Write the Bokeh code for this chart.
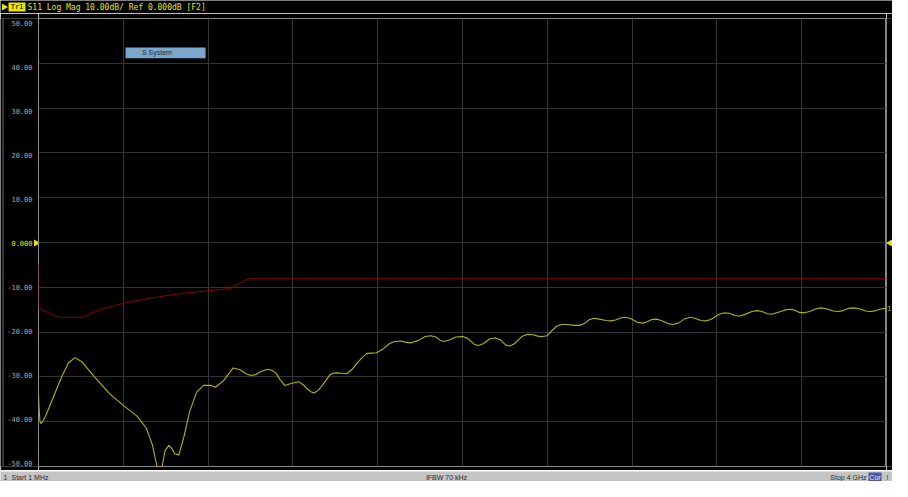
from bokeh.plotting import figure
from bokeh.models import Range1d, FixedTicker, Label, Grid, BoxAnnotation, Span
from bokeh.layouts import column, row
from bokeh.embed import file_html
from bokeh.resources import INLINE
from bokeh.core.properties import value

# ---- data ----
start_mhz = 1
stop_mhz = 4000
n_xdiv = 10
y_ticks = [50, 40, 30, 20, 10, 0, -10, -20, -30, -40, -50]
y_tick_labels = ["50.00", "40.00", "30.00", "20.00", "10.00", "0.000",
                 "-10.00", "-20.00", "-30.00", "-40.00", "-50.00"]

s11_freq = [1, 3, 8, 13, 20, 34, 65, 111, 142, 173, 205, 267, 337, 402, 467, 509,
            537, 560, 584, 598, 616, 630, 644, 663, 686, 714, 747, 779, 817, 835,
            873, 919, 952, 980, 1003, 1025, 1050, 1082, 1100, 1120, 1140, 1162, 1196,
            1231, 1250, 1269, 1285, 1301, 1320, 1339, 1376, 1390, 1409, 1430, 1455,
            1480, 1502, 1525, 1548, 1570, 1595, 1628, 1655, 1679, 1710, 1735, 1758,
            1790, 1825, 1851, 1875, 1895, 1912, 1935, 1970, 2001, 2025, 2055, 2075,
            2098, 2130, 2154, 2178, 2205, 2224, 2245, 2280, 2308, 2333, 2355, 2378,
            2400, 2430, 2445, 2467, 2490, 2530, 2551, 2575, 2600, 2621, 2645, 2678,
            2700, 2722, 2750, 2770, 2795, 2825, 2849, 2872, 2893, 2914, 2938, 2970,
            2993, 3018, 3050, 3073, 3097, 3125, 3147, 3172, 3210, 3236, 3260, 3285,
            3306, 3330, 3365, 3390, 3413, 3438, 3459, 3483, 3518, 3543, 3567, 3590,
            3613, 3637, 3668, 3692, 3716, 3748, 3772, 3795, 3822, 3846, 3870, 3902,
            3925, 3950, 3978, 4000]
s11_db = [-33.8, -36.5, -40.0, -40.4, -40.0, -38.8, -35.2, -29.9, -26.9, -25.7, -26.6,
          -30.1, -33.8, -36.4, -38.8, -41.4, -45.0, -50.0, -50.0, -46.4, -45.3, -46.0,
          -47.2, -47.4, -43.5, -37.7, -33.4, -31.9, -31.9, -32.3, -30.9, -28.0, -28.4,
          -29.3, -29.7, -29.5, -28.8, -28.3, -28.5, -29.1, -30.6, -31.9, -31.4, -31.1,
          -31.8, -32.7, -33.3, -33.6, -33.0, -31.9, -29.5, -29.2, -29.1, -29.2, -29.3,
          -28.3, -27.0, -25.8, -24.8, -24.7, -24.6, -23.7, -22.6, -22.1, -22.0, -22.3,
          -22.4, -21.9, -21.0, -20.8, -21.1, -21.8, -22.1, -21.8, -21.1, -21.0, -21.4,
          -22.7, -23.0, -22.6, -21.5, -21.3, -21.7, -22.9, -23.1, -22.6, -21.0, -20.5,
          -20.6, -20.9, -21.0, -20.8, -19.3, -18.7, -18.3, -18.3, -18.5, -18.5, -18.1,
          -17.2, -16.9, -17.1, -17.4, -17.5, -17.3, -16.8, -16.7, -17.0, -17.8, -18.0,
          -17.7, -17.2, -17.1, -17.4, -18.1, -18.3, -18.0, -17.0, -16.7, -16.9, -17.4,
          -17.5, -17.2, -16.0, -15.7, -15.8, -16.3, -16.4, -16.1, -15.4, -15.2, -15.4,
          -15.9, -16.0, -15.7, -15.1, -14.9, -15.1, -15.6, -15.7, -15.4, -14.8, -14.6,
          -14.8, -15.3, -15.4, -15.2, -14.7, -14.6, -14.8, -15.3, -15.4, -15.2, -14.8,
          -14.7]

mem_freq = [1, 2, 96, 205, 298, 399, 531, 686, 795, 904, 989, 4000]
mem_db = [-5.0, -14.7, -16.7, -16.7, -14.9, -13.6, -12.4, -11.3, -10.8, -10.3, -8.1, -8.1]

header_text = "S11 Log Mag 10.00dB/ Ref 0.000dB [F2]"

# ---- styling ----
MONO = "DejaVu Sans Mono"
SANS = "Liberation Sans"
YEL = "#e6e600"
TRACE_YEL = "#b4b400"
LBL_GREY = "#a8a8a8"
GRID = "#333333"

W = 892
HDR_H = 13
SB_H = 11
ROW_H = 481 - HDR_H - SB_H
LEFT_W = 38
RIGHT_W = 6
MAIN_W = W - LEFT_W - RIGHT_W
B_TOP = 5
B_BOT = 4
FRAME_H = ROW_H - B_TOP - B_BOT

y_lo, y_hi = y_ticks[-1], y_ticks[0]
y_span = y_hi - y_lo
px = y_span / FRAME_H  # dB per pixel


def blank(width, height, xr, yr, bg="black"):
    f = figure(width=width, height=height, x_range=xr, y_range=yr,
               output_backend="svg", toolbar_location=None,
               background_fill_color=bg, border_fill_color=bg, min_border=0,
               x_axis_location=None, y_axis_location=None)
    f.outline_line_color = None
    for g in f.grid:
        g.visible = False
    return f


# ---- header ----
hdr = blank(W, HDR_H, Range1d(0, W), Range1d(0, HDR_H))
hdr.scatter(x=[3.5], y=[6.5], marker="triangle", angle=-1.5708, size=7,
            fill_color=YEL, line_color=None)
hdr.quad(left=[8], right=[25], bottom=[2], top=[11], fill_color=YEL, line_color=None)
hdr.text(x=[16.5], y=[6.5], text=["Tr1"], text_align="center", text_baseline="middle",
         text_color="black", text_font=value(MONO), text_font_size=value("7px"))
hdr.text(x=[27], y=[6.5], text=[header_text], text_align="left", text_baseline="middle",
         text_color=YEL, text_font=value(MONO), text_font_size=value("8px"))

# ---- main plot ----
p = figure(width=MAIN_W, height=ROW_H, x_range=Range1d(start_mhz, stop_mhz),
           y_range=Range1d(y_lo, y_hi),
           output_backend="svg", toolbar_location=None,
           background_fill_color="black", border_fill_color="black",
           min_border_left=0, min_border_right=0, min_border_top=B_TOP,
           min_border_bottom=B_BOT, x_axis_location=None, y_axis_location=None)
p.outline_line_color = "#8a8a8a"
for g in p.grid:
    g.visible = False

x_grid = [start_mhz + i * (stop_mhz - start_mhz) / n_xdiv for i in range(n_xdiv + 1)]
p.add_layout(Grid(dimension=0, ticker=FixedTicker(ticks=x_grid), grid_line_color=GRID))
p.add_layout(Grid(dimension=1, ticker=FixedTicker(ticks=y_ticks), grid_line_color=GRID))

p.line(mem_freq, mem_db, line_color="#8a0000", line_width=1)
p.line(s11_freq, s11_db, line_color=TRACE_YEL, line_width=1.1, line_join="round")

span_f = stop_mhz - start_mhz
p.add_layout(BoxAnnotation(left=start_mhz + 0.1026 * span_f, right=start_mhz + 0.197 * span_f,
                           top=y_hi - 0.0648 * y_span, bottom=y_hi - 0.0886 * y_span,
                           fill_color="#7ba7cc", fill_alpha=1, line_color=None))
p.add_layout(Label(x=start_mhz + 0.122 * span_f, y=y_hi - 0.0767 * y_span,
                   text="S System", text_baseline="middle", text_color="#1c2a4a",
                   text_font=SANS, text_font_size="7px"))

# ---- left strip: y tick labels (shares the dB scale) ----
left = blank(LEFT_W, ROW_H, Range1d(0, LEFT_W),
             Range1d(y_lo - B_BOT * px, y_hi + B_TOP * px))
left.add_layout(Span(location=2.5, dimension="height", line_color="#6a6a6a", line_width=1))
lbl_colors = [YEL if t == 0 else LBL_GREY for t in y_ticks]
left.text(x=[32] * len(y_ticks), y=y_ticks, text=y_tick_labels, text_color=lbl_colors,
          text_align="right", text_baseline="middle", text_font=value(MONO),
          text_font_size=value("7px"))
left.scatter(x=[35.5], y=[0], marker="triangle", angle=-1.5708, size=7,
             fill_color=YEL, line_color=None)

# ---- right strip ----
right = blank(RIGHT_W, ROW_H, Range1d(0, RIGHT_W),
              Range1d(y_lo - B_BOT * px, y_hi + B_TOP * px))
right.scatter(x=[3.5], y=[0], marker="triangle", angle=1.5708, size=7,
              fill_color=YEL, line_color=None)
right.text(x=[0.5], y=[s11_db[-1]], text=["1"], text_align="left", text_baseline="middle",
           text_color=TRACE_YEL, text_font=value(MONO), text_font_size=value("7px"))

# ---- status bar ----
sb = blank(W, SB_H, Range1d(0, W), Range1d(0, SB_H), bg="#c4c4c4")
st = dict(text_baseline="middle", text_color="#2a2a2a", text_font=SANS, text_font_size="7px")
sb.add_layout(Label(x=3, y=5.5, text="1", **st))
sb.add_layout(Label(x=11, y=5.5, text="Start 1 MHz", **st))
sb.add_layout(Label(x=W / 2, y=5.5, text="IFBW 70 kHz", text_align="center", **st))
sb.add_layout(Label(x=W - 26, y=5.5, text="Stop 4 GHz", text_align="right", **st))
sb.add_layout(BoxAnnotation(left=W - 24, right=W - 11, top=10, bottom=1,
                            fill_color="#4a5aa8", fill_alpha=1, line_color=None))
sb.add_layout(Label(x=W - 17.5, y=5.5, text="Cor", text_align="center", text_baseline="middle",
                    text_color="#e8e8f0", text_font=SANS, text_font_size="7px"))
sb.add_layout(Label(x=W - 6, y=5.5, text="!", **st))

layout = column(hdr, row(left, p, right, spacing=0), sb, spacing=0)
open("out.html", "w").write(file_html(layout, INLINE))
